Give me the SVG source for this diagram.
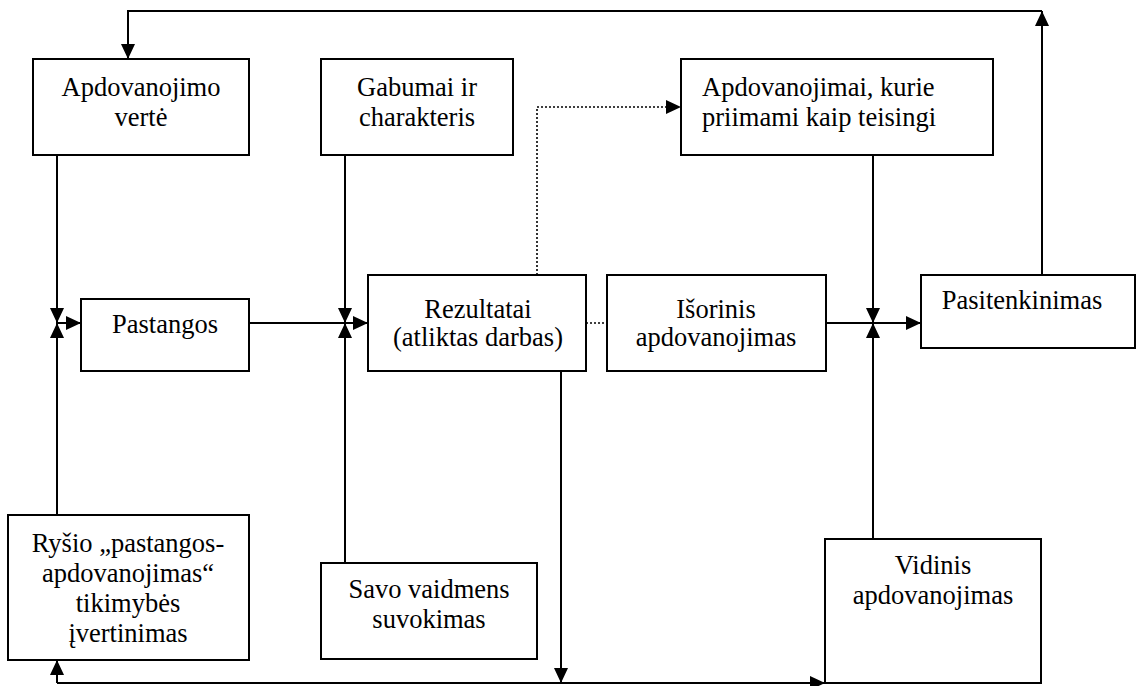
<svg xmlns="http://www.w3.org/2000/svg" width="1137" height="686" viewBox="0 0 1137 686">
  <style>
    .box { fill: #ffffff; stroke: #000000; stroke-width: 2; }
    text { font-family: 'Liberation Serif', 'Times New Roman', Times, serif; font-size: 26.5px; fill: #000000; text-anchor: middle; }
    .lbl-left { text-anchor: start; }
    .line { fill: none; stroke: #000000; stroke-width: 2; }
    .dot { fill: none; stroke: #000000; stroke-width: 1.6; stroke-dasharray: 2 2; }
  </style>
  <defs>
    <marker id="arrow" markerUnits="userSpaceOnUse" markerWidth="16" markerHeight="15" refX="15" refY="7" orient="auto">
      <path d="M0,0 L15,7 L0,14 z" fill="#000000"/>
    </marker>
  </defs>
  <rect width="1137" height="686" fill="#ffffff"/>

  <!-- connectors -->
  <g id="connectors">
    <path class="line" d="M1042,275 V11" marker-end="url(#arrow)"/>
    <path class="line" d="M1042,11 H128 V59" marker-end="url(#arrow)"/>
    <path class="line" d="M57,155 V323" marker-end="url(#arrow)"/>
    <path class="line" d="M57,515 V323" marker-end="url(#arrow)"/>
    <path class="line" d="M57,323 H81" marker-end="url(#arrow)"/>
    <path class="line" d="M249,323 H368" marker-end="url(#arrow)"/>
    <path class="line" d="M345,155 V323" marker-end="url(#arrow)"/>
    <path class="line" d="M345,563 V323" marker-end="url(#arrow)"/>
    <path class="dot" d="M537,275 V107 H681" marker-end="url(#arrow)"/>
    <path class="dot" d="M586,323 H607"/>
    <path class="line" d="M826,323 H921" marker-end="url(#arrow)"/>
    <path class="line" d="M873,155 V323" marker-end="url(#arrow)"/>
    <path class="line" d="M873,539 V323" marker-end="url(#arrow)"/>
    <path class="line" d="M561,371 V683" marker-end="url(#arrow)"/>
    <path class="line" d="M57,683 H825" marker-end="url(#arrow)"/>
    <path class="line" d="M57,683 V660" marker-end="url(#arrow)"/>
  </g>

  <g id="node-verte">
    <rect class="box" x="33" y="59" width="216" height="96"/>
    <text x="141" y="96">Apdovanojimo</text>
    <text x="141" y="126">vertė</text>
  </g>

  <g id="node-gabumai">
    <rect class="box" x="321" y="59" width="192" height="96"/>
    <text x="417" y="96">Gabumai ir</text>
    <text x="417" y="126">charakteris</text>
  </g>

  <g id="node-teisingi">
    <rect class="box" x="681" y="59" width="312" height="96"/>
    <text class="lbl-left" x="702" y="96">Apdovanojimai, kurie</text>
    <text class="lbl-left" x="702" y="126">priimami kaip teisingi</text>
  </g>

  <g id="node-pastangos">
    <rect class="box" x="81" y="299" width="168" height="72"/>
    <text x="165" y="333">Pastangos</text>
  </g>

  <g id="node-rezultatai">
    <rect class="box" x="368" y="275" width="218" height="96"/>
    <text x="478" y="318">Rezultatai</text>
    <text x="478" y="346">(atliktas darbas)</text>
  </g>

  <g id="node-isorinis">
    <rect class="box" x="607" y="275" width="219" height="96"/>
    <text x="716" y="318">Išorinis</text>
    <text x="716" y="346">apdovanojimas</text>
  </g>

  <g id="node-pasitenkinimas">
    <rect class="box" x="921" y="275" width="214" height="73"/>
    <text x="1022" y="309">Pasitenkinimas</text>
  </g>

  <g id="node-rysio">
    <rect class="box" x="8" y="515" width="241" height="145"/>
    <text x="128" y="552">Ryšio „pastangos-</text>
    <text x="128" y="582">apdovanojimas“</text>
    <text x="128" y="612">tikimybės</text>
    <text x="128" y="642">įvertinimas</text>
  </g>

  <g id="node-savo">
    <rect class="box" x="321" y="563" width="216" height="96"/>
    <text x="429" y="598">Savo vaidmens</text>
    <text x="429" y="628">suvokimas</text>
  </g>

  <g id="node-vidinis">
    <rect class="box" x="825" y="539" width="216" height="144"/>
    <text x="933" y="574">Vidinis</text>
    <text x="933" y="604">apdovanojimas</text>
  </g>
</svg>
